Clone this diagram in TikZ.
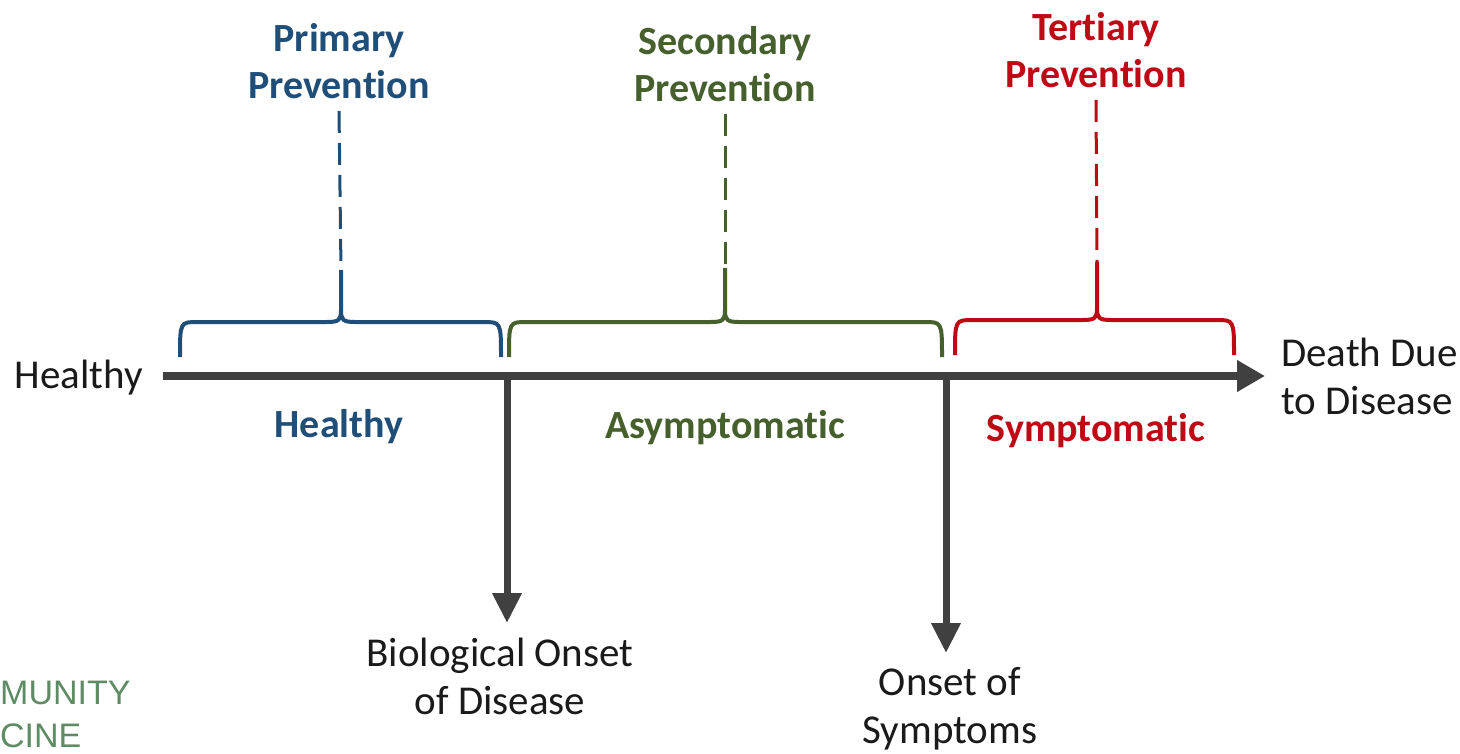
\documentclass[tikz,border=0pt]{standalone}
\usepackage{fontspec}
\setmainfont{Carlito}[Ligatures=NoCommon]
\newfontfamily\logofont{Liberation Sans}
\usetikzlibrary{arrows.meta}

\definecolor{axisgray}{HTML}{404040}
\definecolor{inkblack}{HTML}{1A1A1A}
\definecolor{prevblue}{HTML}{1F4E79}
\definecolor{prevgreen}{HTML}{45602C}
\definecolor{prevred}{HTML}{BE0A14}
\definecolor{logogreen}{HTML}{5E8A64}

% curly brace over one stage of the timeline:
% #1 name, #2 colour, #3 left x, #4 middle x, #5 right x, #6 bar y, #7 tip y
\newcommand\stagebrace[7]{%
  \coordinate (#1peak) at (#4,#7);
  \draw[brace,#2] (#3,#6+35) .. controls (#3,#6) and (#3,#6) .. (#3+18,#6)
    -- (#4-14,#6) .. controls (#4-2,#6) and (#4,#6-2) .. (#4,#6-12) -- (#1peak);
  \draw[brace,#2] (#5,#6+35) .. controls (#5,#6) and (#5,#6) .. (#5-18,#6)
    -- (#4+14,#6) .. controls (#4+2,#6) and (#4,#6-2) .. (#4,#6-12);
}

\begin{document}
\begin{tikzpicture}[x=1pt,y=-1pt,
  body/.style={font=\fontsize{41}{48}\selectfont, text=inkblack, inner sep=0pt, align=center},
  title/.style={font=\bfseries\fontsize{40}{47}\selectfont, inner sep=0pt, align=center},
  stage/.style={font=\bfseries\fontsize{40}{47}\selectfont, inner sep=0pt, anchor=base},
  logo/.style={font=\logofont\fontsize{34}{45}\selectfont, text=logogreen, inner sep=0pt, anchor=base west},
  brace/.style={line width=4pt},
  guide/.style={line width=3pt, dash pattern=on 22pt off 10pt},
  axis/.style={draw=axisgray, line width=8pt, -{Triangle[length=28pt,width=30pt]}},
  drop/.style={draw=axisgray, line width=7pt, -{Triangle[length=30pt,width=28pt]}}]
\useasboundingbox (0,0) rectangle (1460,754);
\clip (0,0) rectangle (1460,754);

% end labels of the timeline
\node[body, anchor=base] (start) at (79,388) {Healthy};
\node[body, anchor=west, align=left] (death) at (1281,376) {Death Due\\to Disease};

% timeline
\coordinate (axisL) at (163,376);
\coordinate (axisR) at (1265,376);
\draw[axis] (axisL) -- (axisR);

% onset markers
\node[body] (bio) at (500,676) {Biological Onset\\of Disease};
\node[body] (symp) at (950,709) {Onset of\\Symptoms};
\coordinate (bioOnset) at (507,372);
\coordinate (sympOnset) at (946,372);
\draw[drop] (bioOnset) -- (bioOnset |- 0,623);
\draw[drop] (sympOnset) -- (sympOnset |- 0,653);

% stage names below the timeline
\node[stage, text=prevblue] (healthy) at (339,437) {Healthy};
\node[stage, text=prevgreen] (asym) at (725,438) {Asymptomatic};
\node[stage, text=prevred] (sym) at (1096,441) {Symptomatic};

% braces over the stages
\stagebrace{blue}{prevblue}{180}{341}{501}{322}{270}
\stagebrace{green}{prevgreen}{509}{725}{942}{322}{268}
\stagebrace{red}{prevred}{955}{1097}{1234}{320}{262}

% levels of prevention
\node[title, text=prevblue] (primary) at (339,61) {Primary\\Prevention};
\node[title, text=prevgreen] (secondary) at (725,64) {Secondary\\Prevention};
\node[title, text=prevred] (tertiary) at (1096,50) {Tertiary\\Prevention};
\draw[guide, prevblue] (primary.south) ++(0,12) -- (bluepeak);
\draw[guide, prevgreen] (secondary.south) ++(0,12) -- (greenpeak);
\draw[guide, prevred] (tertiary.south) ++(0,12) -- (redpeak);

% caption at the lower left
\node[logo] (logoA) at (0,704) {MUNITY};
\node[logo] (logoB) at (0,747) {CINE};
\end{tikzpicture}
\end{document}
